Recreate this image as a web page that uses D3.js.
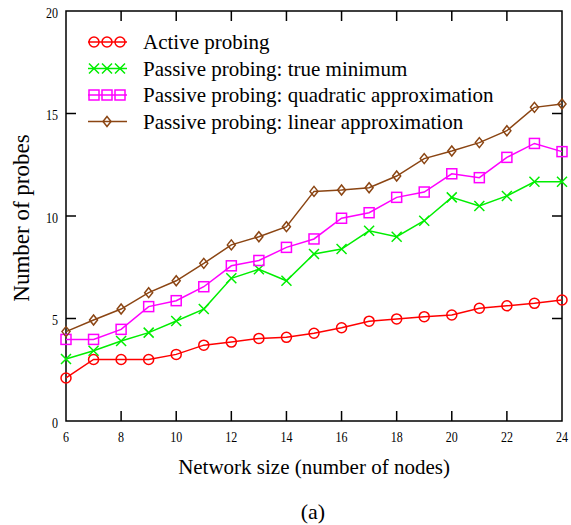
<!DOCTYPE html>
<html>
<head>
<meta charset="utf-8">
<script src="https://cdn.jsdelivr.net/npm/d3@7"></script>
<style>
  body { margin: 0; background: #fff; }
  svg { display: block; }
  text { font-family: "Liberation Serif", "DejaVu Serif", serif; fill: #000; }
</style>
</head>
<body>
<div id="chart"></div>
<script>
// network sizes on the x axis
const nodes = [6, 7, 8, 9, 10, 11, 12, 13, 14, 15, 16, 17, 18, 19, 20, 21, 22, 23, 24];

const activeProbing = [2.1, 3.0, 3.0, 3.0, 3.25, 3.7, 3.85, 4.03, 4.08, 4.28, 4.55, 4.87, 4.98, 5.09, 5.17, 5.5, 5.62, 5.74, 5.9];
const passiveTrueMin = [3.02, 3.43, 3.9, 4.31, 4.88, 5.46, 6.96, 7.4, 6.84, 8.15, 8.39, 9.28, 8.99, 9.77, 10.91, 10.49, 10.98, 11.67, 11.67];
const passiveQuadratic = [3.98, 3.98, 4.47, 5.58, 5.87, 6.55, 7.57, 7.83, 8.47, 8.88, 9.89, 10.16, 10.91, 11.17, 12.06, 11.87, 12.86, 13.54, 13.14];
const passiveLinear = [4.36, 4.93, 5.46, 6.26, 6.84, 7.69, 8.59, 8.99, 9.48, 11.2, 11.27, 11.38, 11.95, 12.8, 13.17, 13.58, 14.16, 15.3, 15.46];

const seriesNames = [
  "Active probing",
  "Passive probing: true minimum",
  "Passive probing: quadratic approximation",
  "Passive probing: linear approximation"
];

const xTicks = [6, 8, 10, 12, 14, 16, 18, 20, 22, 24];
const yTicks = [0, 5, 10, 15, 20];

const width = 571, height = 525;
const margin = { left: 66, right: 9, top: 11, bottom: 104 };

const svg = d3.select("#chart").append("svg")
  .attr("width", width)
  .attr("height", height);

const x = d3.scaleLinear().domain([6, 24]).range([margin.left, width - margin.right]);
const y = d3.scaleLinear().domain([0, 20]).range([height - margin.bottom, margin.top]);

// frame with inward ticks on all four sides
const frame = svg.append("g").attr("stroke", "#000").attr("stroke-width", 1.5).attr("fill", "none");
frame.append("rect")
  .attr("x", x(6)).attr("y", y(20))
  .attr("width", x(24) - x(6)).attr("height", y(0) - y(20));

const tickLen = 10;
xTicks.slice(1, -1).forEach(t => {
  frame.append("line").attr("x1", x(t)).attr("x2", x(t)).attr("y1", y(0)).attr("y2", y(0) - tickLen);
  frame.append("line").attr("x1", x(t)).attr("x2", x(t)).attr("y1", y(20)).attr("y2", y(20) + tickLen);
});
yTicks.slice(1, -1).forEach(t => {
  frame.append("line").attr("x1", x(6)).attr("x2", x(6) + tickLen).attr("y1", y(t)).attr("y2", y(t));
  frame.append("line").attr("x1", x(24)).attr("x2", x(24) - tickLen).attr("y1", y(t)).attr("y2", y(t));
});

// tick labels
svg.append("g").selectAll("text").data(xTicks).join("text")
  .attr("x", d => x(d))
  .attr("y", y(0) + 21)
  .attr("text-anchor", "middle")
  .attr("font-size", 15)
  .attr("transform", d => `translate(${x(d)},0) scale(0.8,1) translate(${-x(d)},0)`)
  .text(d => d);

svg.append("g").selectAll("text").data(yTicks).join("text")
  .attr("x", x(6) - 8)
  .attr("y", d => y(d) + 7)
  .attr("text-anchor", "end")
  .attr("font-size", 15)
  .attr("transform", `translate(${x(6) - 8},0) scale(0.8,1) translate(${-(x(6) - 8)},0)`)
  .text(d => d);

// axis titles
svg.append("text")
  .attr("x", 314)
  .attr("y", 474)
  .attr("text-anchor", "middle")
  .attr("font-size", 21)
  .text("Network size (number of nodes)");

svg.append("text")
  .attr("transform", `translate(29, ${(y(0) + y(20)) / 2 + 2}) rotate(-90)`)
  .attr("text-anchor", "middle")
  .attr("font-size", 23)
  .text("Number of probes");

svg.append("text")
  .attr("x", 313)
  .attr("y", 519)
  .attr("text-anchor", "middle")
  .attr("font-size", 22)
  .text("(a)");

// markers
const markerDraw = {
  circle: (g, cx, cy, color) => g.append("circle").attr("cx", cx).attr("cy", cy).attr("r", 5)
    .attr("fill", "none").attr("stroke", color).attr("stroke-width", 1.5),
  cross: (g, cx, cy, color) => g.append("path")
    .attr("d", `M${cx - 5},${cy - 5}L${cx + 5},${cy + 5}M${cx - 5},${cy + 5}L${cx + 5},${cy - 5}`)
    .attr("stroke", color).attr("stroke-width", 1.5),
  square: (g, cx, cy, color) => g.append("rect").attr("x", cx - 5).attr("y", cy - 5)
    .attr("width", 10).attr("height", 10)
    .attr("fill", "none").attr("stroke", color).attr("stroke-width", 1.5),
  diamond: (g, cx, cy, color) => g.append("path")
    .attr("d", `M${cx},${cy - 5}L${cx + 4},${cy}L${cx},${cy + 5}L${cx - 4},${cy}Z`)
    .attr("fill", "none").attr("stroke", color).attr("stroke-width", 1.5)
};

const series = [
  { name: seriesNames[0], values: activeProbing, color: "#ff0000", marker: "circle", legendMarks: [-13, 0, 13] },
  { name: seriesNames[1], values: passiveTrueMin, color: "#00ee00", marker: "cross", legendMarks: [-13, 0, 13] },
  { name: seriesNames[2], values: passiveQuadratic, color: "#ff00ff", marker: "square", legendMarks: [-13, 0, 13] },
  { name: seriesNames[3], values: passiveLinear, color: "#8b4513", marker: "diamond", legendMarks: [0] }
];

const line = d3.line().x(d => x(d[0])).y(d => y(d[1]));

series.forEach(s => {
  const pts = nodes.map((n, i) => [n, s.values[i]]);
  const g = svg.append("g");
  g.append("path")
    .attr("d", line(pts))
    .attr("fill", "none")
    .attr("stroke", s.color)
    .attr("stroke-width", 1.5);
  pts.forEach(p => markerDraw[s.marker](g, x(p[0]), y(p[1]), s.color));
});

// legend
const legend = svg.append("g");
series.forEach((s, i) => {
  const ly = 42 + i * 26.5;
  const cx = 107;
  legend.append("line")
    .attr("x1", 88).attr("x2", 127).attr("y1", ly).attr("y2", ly)
    .attr("stroke", s.color).attr("stroke-width", 1.5);
  s.legendMarks.forEach(dx => markerDraw[s.marker](legend, cx + dx, ly, s.color));
  legend.append("text")
    .attr("x", 143)
    .attr("y", ly + 7)
    .attr("font-size", 21)
    .text(s.name);
});
</script>
</body>
</html>
